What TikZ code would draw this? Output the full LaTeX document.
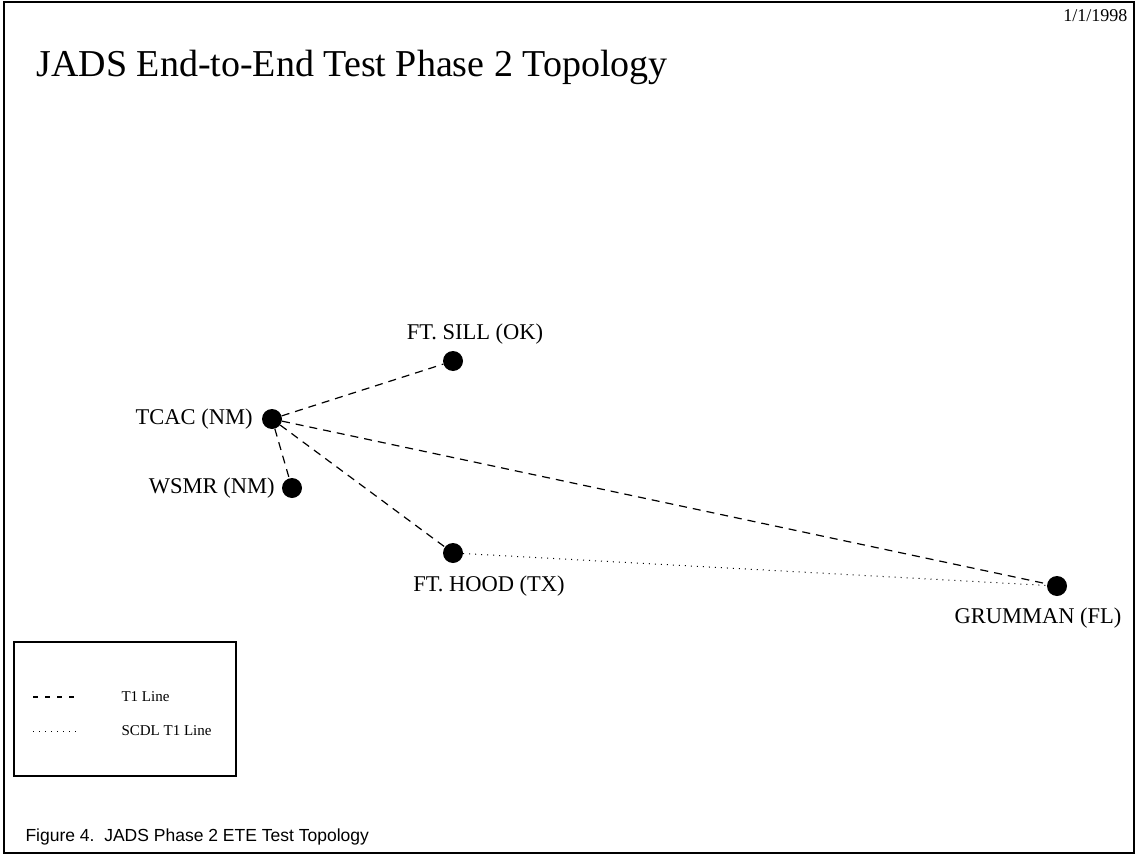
\documentclass[tikz,border=0pt]{standalone}
\usepackage{fontspec}
\setmainfont{Liberation Serif}
\newfontfamily\capfont{Liberation Sans}
\usetikzlibrary{positioning}

\begin{document}
\begin{tikzpicture}[x=1pt,y=-1pt]

	% INPUTS:
	\newcommand{\dotsize}{20pt};		% diameter of a site dot
	\newcommand{\namesize}{22.5};		% font size of the site names

	% styles
	\tikzstyle{site}=[circle,fill=black,inner sep=0pt,minimum size=\dotsize];
	\tikzstyle{sitename}=[inner sep=1pt,font=\fontsize{\namesize}{\namesize}\selectfont];
	\tikzstyle{tone}=[line width=1.2pt,dash pattern=on 8pt off 6pt];
	\tikzstyle{scdl}=[line width=1pt,dash pattern=on 1pt off 5pt];

	% page size, outer frame, title and date
	\useasboundingbox (0,0) rectangle (1138,859);
	\draw[line width=1.5pt] (4,2) rectangle (1134,853);
	\node[anchor=west,font=\fontsize{38}{38}\selectfont] (title) at (33,67) {JADS End-to-End Test Phase 2 Topology};
	\node[anchor=east,font=\fontsize{18}{18}\selectfont] (date) at (1131,16) {1/1/1998};

	% the sites
	\node[site] (sill) at (453,361) {};
	\node[site] (tcac) at (272,419) {};
	\node[site] (wsmr) at (292,488) {};
	\node[site] (hood) at (453,553) {};
	\node[site] (grumman) at (1057,586) {};

	% names of the sites
	\node[sitename,above=5pt of sill,xshift=22pt] (sillname) {FT. SILL (OK)};
	\node[sitename,left=8pt of tcac] (tcacname) {TCAC (NM)};
	\node[sitename,left=6pt of wsmr] (wsmrname) {WSMR (NM)};
	\node[sitename,below=11pt of hood,xshift=36pt] (hoodname) {FT. HOOD (TX)};
	\node[sitename,below=10pt of grumman,xshift=-19pt] (grummanname) {GRUMMAN (FL)};

	% the lines between the sites
	\draw[style=tone] (tcac) -- (sill);
	\draw[style=tone] (tcac) -- (wsmr);
	\draw[style=tone] (tcac) -- (hood);
	\draw[style=tone] (tcac) -- (grumman);
	\draw[style=scdl] (hood) -- (grumman);

	% legend box
	\draw[line width=1.5pt] (14,642) rectangle (236,776);
	\coordinate (toneA) at (33,697);
	\coordinate (toneB) at (80,697);
	\coordinate (scdlA) at (33,731);
	\coordinate (scdlB) at (80,731);
	\draw[line width=1.2pt,dash pattern=on 5pt off 7pt] (toneA) -- (toneB);
	\draw[style=scdl] (scdlA) -- (scdlB);
	\node[anchor=west,font=\fontsize{15}{15}\selectfont] (tonetext) at (118,697) {T1 Line};
	\node[anchor=west,font=\fontsize{15}{15}\selectfont] (scdltext) at (118,731) {SCDL T1 Line};

	% caption
	\node[anchor=west,font=\capfont\fontsize{17.5}{17.5}\selectfont] (caption) at (22,837) {Figure 4.\ \ JADS Phase 2 ETE Test Topology};

\end{tikzpicture}
\end{document}
